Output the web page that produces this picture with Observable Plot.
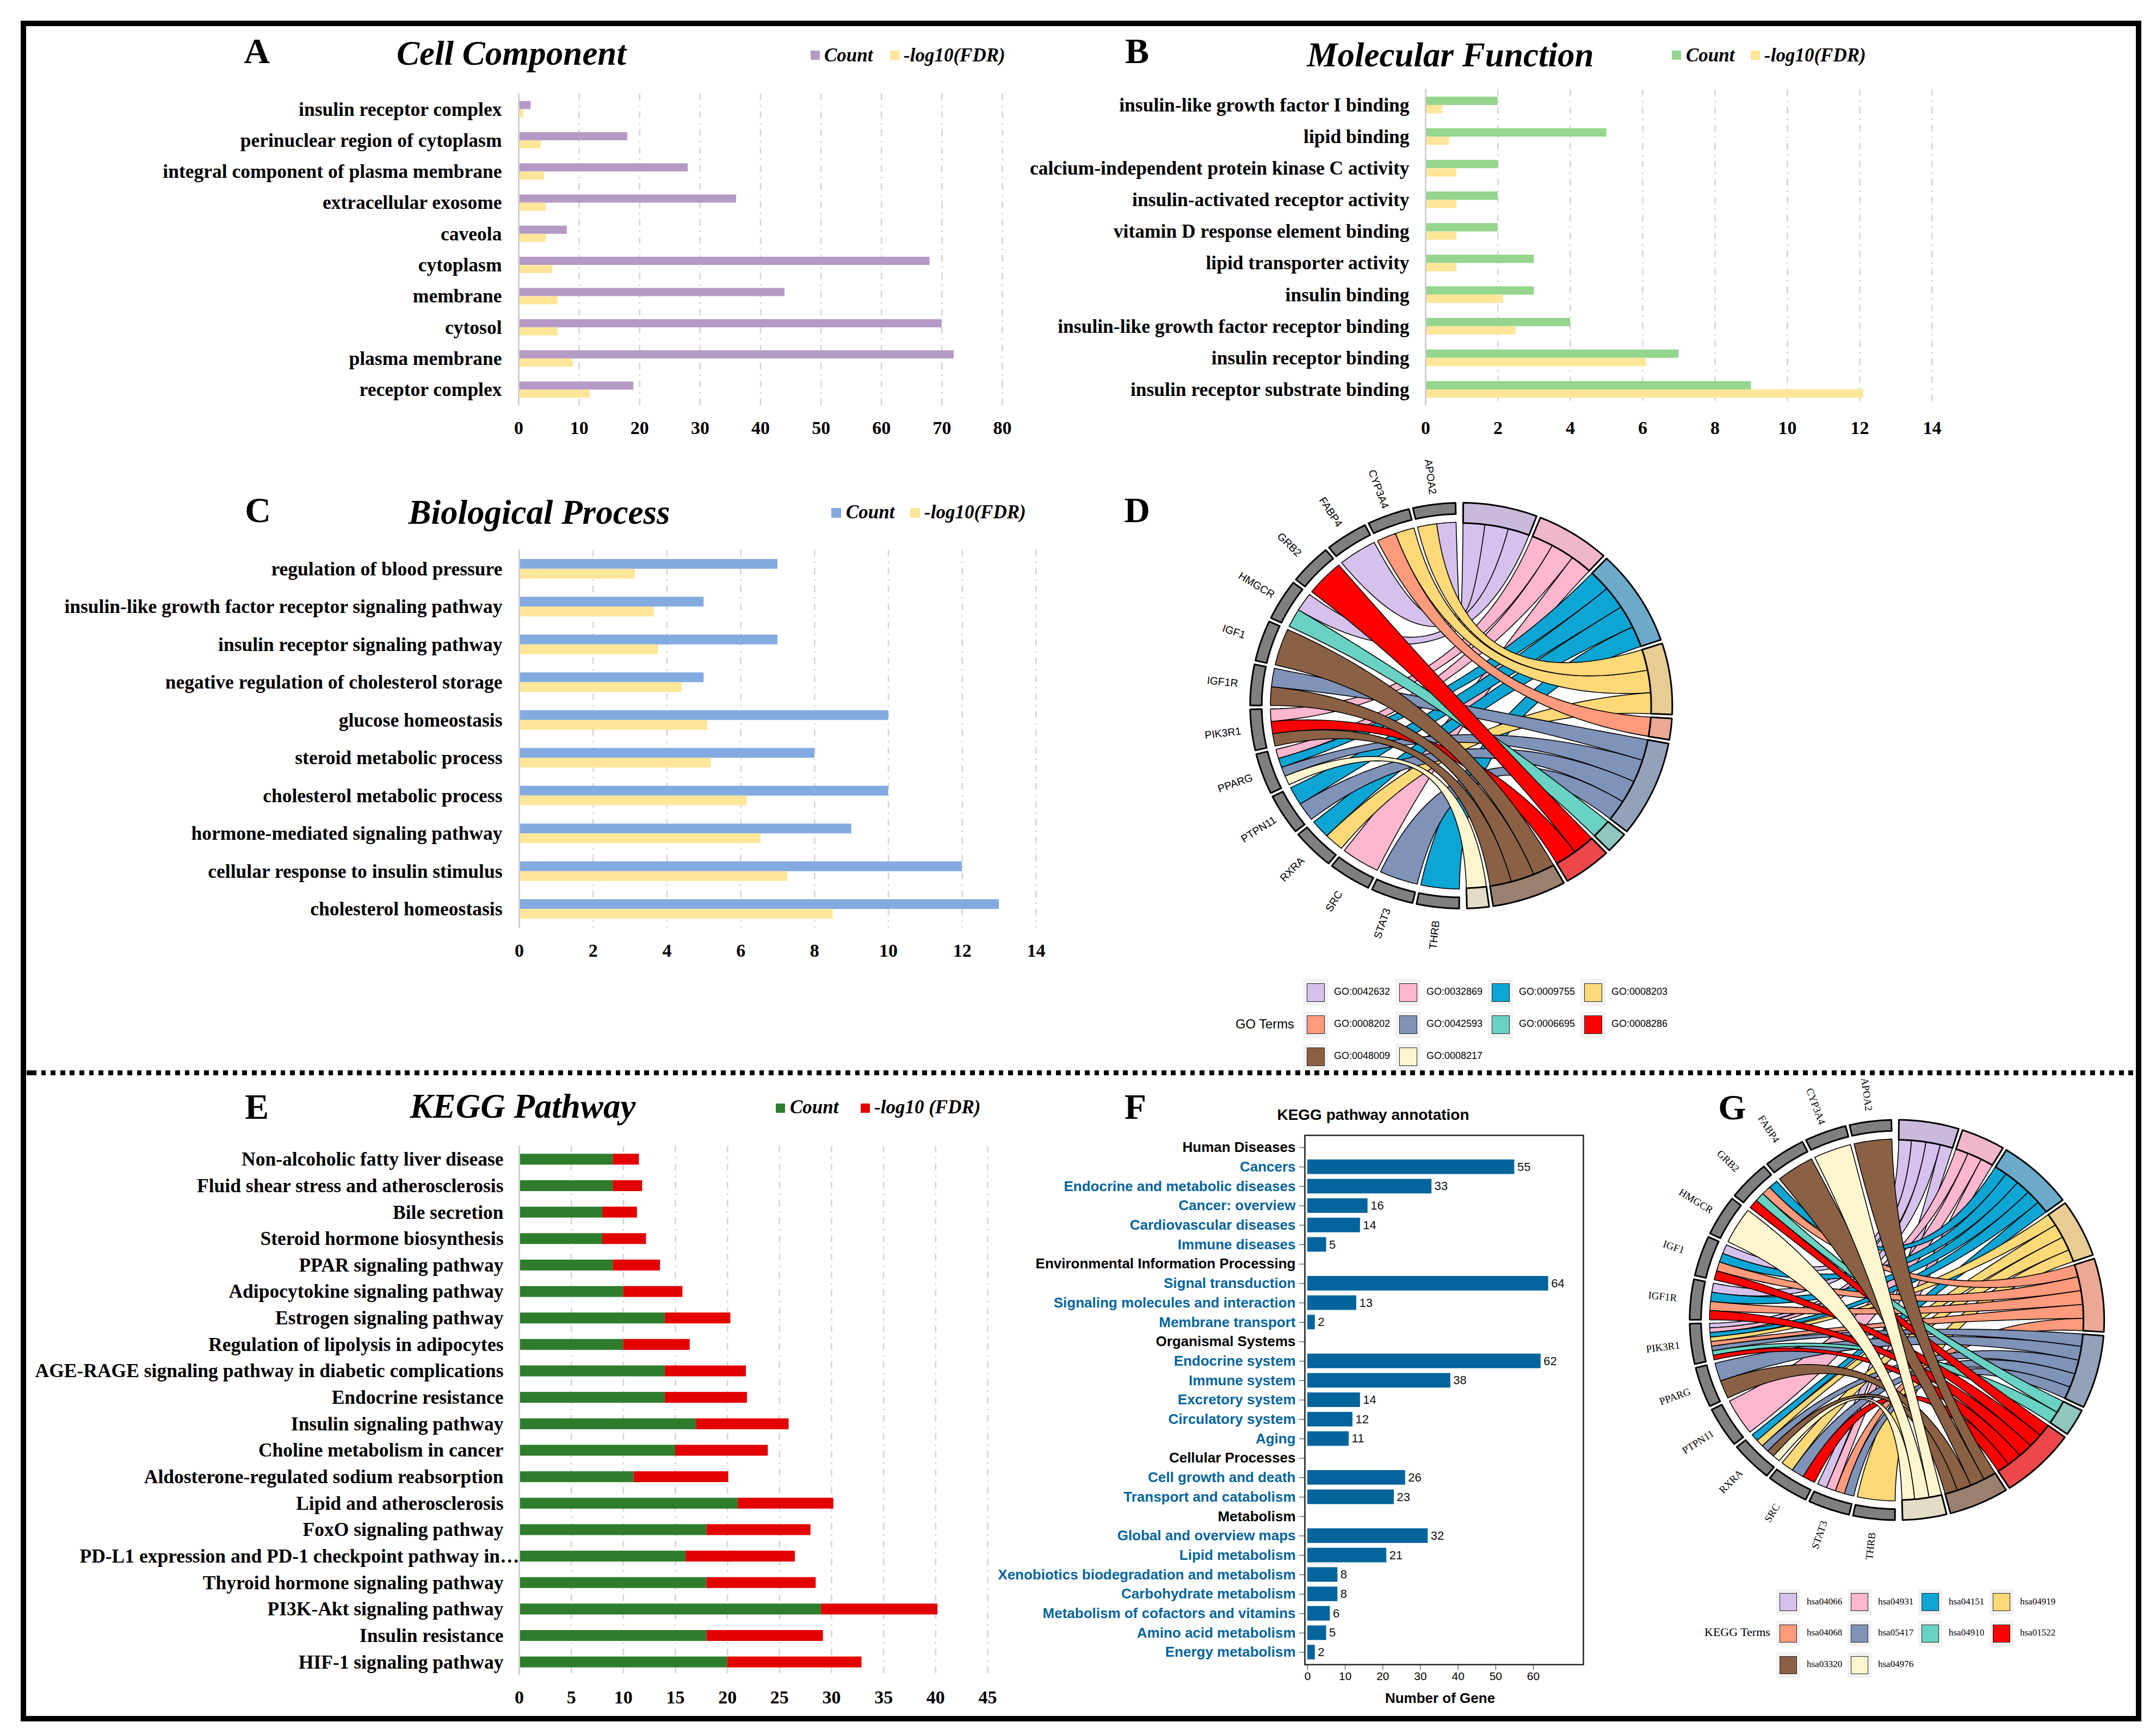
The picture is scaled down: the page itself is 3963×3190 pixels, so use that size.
<!DOCTYPE html>
<html><head><meta charset="utf-8">
<script src="https://cdn.jsdelivr.net/npm/d3@7"></script>
<script src="https://cdn.jsdelivr.net/npm/@observablehq/plot@0.6"></script>
<style>
html,body{margin:0;padding:0;background:#fff}
#fig{position:relative;width:3963px;height:3190px;background:#fff;overflow:hidden}
#fig>*{position:absolute}
#fig svg{overflow:visible}
.serif{font-family:"Liberation Serif",serif;color:#000;white-space:nowrap}
.sans{font-family:"Liberation Sans",sans-serif;color:#000;white-space:nowrap}
</style></head><body><div id="fig"></div>
<script>
// ---------- Panel A
const ccCats=["insulin receptor complex","perinuclear region of cytoplasm","integral component of plasma membrane","extracellular exosome","caveola","cytoplasm","membrane","cytosol","plasma membrane","receptor complex"];
const ccCount=[2,18,28,36,8,68,44,70,72,19];
const ccFdr=[0.8,3.7,4.25,4.5,4.5,5.6,6.5,6.5,9,11.8];
// ---------- Panel B
const mfCats=["insulin-like growth factor I binding","lipid binding","calcium-independent protein kinase C activity","insulin-activated receptor activity","vitamin D response element binding","lipid transporter activity","insulin binding","insulin-like growth factor receptor binding","insulin receptor binding","insulin receptor substrate binding"];
const mfCount=[2,5,2,2,2,3,3,4,7,9];
const mfFdr=[0.47,0.66,0.85,0.85,0.85,0.85,2.15,2.49,6.1,12.1];
// ---------- Panel C
const bpCats=["regulation of blood pressure","insulin-like growth factor receptor signaling pathway","insulin receptor signaling pathway","negative regulation of cholesterol storage","glucose homeostasis","steroid metabolic process","cholesterol metabolic process","hormone-mediated signaling pathway","cellular response to insulin stimulus","cholesterol homeostasis"];
const bpCount=[7,5,7,5,10,8,10,9,12,13];
const bpFdr=[3.14,3.65,3.76,4.4,5.1,5.19,6.17,6.54,7.27,8.5];
// ---------- Panel E
const keggCats=["Non-alcoholic fatty liver disease","Fluid shear stress and atherosclerosis","Bile secretion","Steroid hormone biosynthesis","PPAR signaling pathway","Adipocytokine signaling pathway","Estrogen signaling pathway","Regulation of lipolysis in adipocytes","AGE-RAGE signaling pathway in diabetic complications","Endocrine resistance","Insulin signaling pathway","Choline metabolism in cancer","Aldosterone-regulated sodium reabsorption","Lipid and atherosclerosis","FoxO signaling pathway","PD-L1 expression and PD-1 checkpoint pathway in…","Thyroid hormone signaling pathway","PI3K-Akt signaling pathway","Insulin resistance","HIF-1 signaling pathway"];
const keggTruncated=["PD-L1 expression and PD-1 checkpoint pathway in…"];
const keggCount=[9,9,8,8,9,10,14,10,14,14,17,15,11,21,18,16,18,29,18,20];
const keggFdr=[2.52,2.83,3.33,4.2,4.54,5.7,6.3,6.4,7.8,7.9,8.9,8.9,9.1,9.2,10,10.5,10.5,11.2,11.2,12.9];
// ---------- Panel F
const annGroups=["Human Diseases","Environmental Information Processing","Organismal Systems","Cellular Processes","Metabolism"];
const annCats=["Human Diseases","Cancers","Endocrine and metabolic diseases","Cancer: overview","Cardiovascular diseases","Immune diseases","Environmental Information Processing","Signal transduction","Signaling molecules and interaction","Membrane transport","Organismal Systems","Endocrine system","Immune system","Excretory system","Circulatory system","Aging","Cellular Processes","Cell growth and death","Transport and catabolism","Metabolism","Global and overview maps","Lipid metabolism","Xenobiotics biodegradation and metabolism","Carbohydrate metabolism","Metabolism of cofactors and vitamins","Amino acid metabolism","Energy metabolism"];
const annValues=[null,55,33,16,14,5,null,64,13,2,null,62,38,14,12,11,null,26,23,null,32,21,8,8,6,5,2];
// ---------- Chord panels
const genes=["APOA2","CYP3A4","FABP4","GRB2","HMGCR","IGF1","IGF1R","PIK3R1","PPARG","PTPN11","RXRA","SRC","STAT3","THRB"];
const termFill=["#D6C1ED","#FFB6CF","#0CA5D4","#FFD978","#FF9A7C","#7F92B8","#69D2C2","#FF0000","#8A6145","#FFF6D0"];
const ringFill=["#CAB9DB","#F0B7C8","#6BAACB","#E8CC92","#EBA995","#92A2BA","#8FC6BD","#ED474A","#9A806E","#E3DCC6"];
const goTerms=["GO:0042632","GO:0032869","GO:0009755","GO:0008203","GO:0008202","GO:0042593","GO:0006695","GO:0008286","GO:0048009","GO:0008217"];
const goLinks=[["APOA2","FABP4","HMGCR"],["PIK3R1","PPARG","SRC"],["PPARG","PTPN11","RXRA","THRB"],["APOA2","CYP3A4","RXRA"],["CYP3A4"],["IGF1R","PPARG","PTPN11","STAT3"],["HMGCR"],["GRB2","PIK3R1"],["IGF1","IGF1R","PIK3R1"],["PPARG"]];
const keggTerms=["hsa04066","hsa04931","hsa04151","hsa04919","hsa04068","hsa05417","hsa04910","hsa01522","hsa03320","hsa04976"];
const keggLinks=[["IGF1","IGF1R","PIK3R1","STAT3"],["PIK3R1","PTPN11","STAT3"],["GRB2","IGF1","IGF1R","PIK3R1","RXRA"],["PIK3R1","RXRA","SRC","THRB"],["GRB2","IGF1","IGF1R","PIK3R1","STAT3"],["PIK3R1","PPARG","RXRA","SRC","STAT3"],["GRB2","PIK3R1"],["GRB2","IGF1","IGF1R","PIK3R1","SRC"],["APOA2","FABP4","PPARG","RXRA"],["CYP3A4","HMGCR","RXRA"]];

const fig=document.getElementById("fig");
const SERIF="Liberation Serif", SANS="Liberation Sans";
const GRID={stroke:"#d6d6d6",strokeWidth:2.7,strokeDasharray:"12 9 3 9"};
function place(el,left,top){el.style.left=left+"px";el.style.top=top+"px";fig.appendChild(el);return el;}
function html(cls,text,css){const d=document.createElement("div");d.className=cls;d.textContent=text;Object.assign(d.style,css);fig.appendChild(d);return d;}
function label(cls,text,x,base,size,opts={}){
  const {anchor="start",weight="normal",italic=false,color="#000"}=opts;
  const tx=anchor==="middle"?"translateX(-50%)":"";
  return html(cls,text,{left:x+"px",top:(base-size)+"px",fontSize:size+"px",lineHeight:(size*1.22)+"px",fontWeight:weight,fontStyle:italic?"italic":"normal",color,transform:tx});
}
function box(x,y,w,h,bg,css={}){const d=document.createElement("div");Object.assign(d.style,{left:x+"px",top:y+"px",width:w+"px",height:h+"px",background:bg},css);fig.appendChild(d);return d;}

function grouped({cats,count,fdr,color,xMax,step,svgLeft,x0,x1,yTop,yBot,pad,bar,size=35.5}){
  const series=["Count","-log10(FDR)"];
  const rows=cats.flatMap((c,i)=>[{cat:c,series:series[0],value:count[i]},{cat:c,series:series[1],value:fdr[i]}]);
  const pitch=(yBot-yTop)/cats.length;
  const ticks=d3.range(0,xMax+1,step);
  const frame={width:x1-svgLeft+60,height:yBot-yTop+80,marginLeft:x0-svgLeft,marginRight:60,marginTop:0,marginBottom:80,
    style:{fontFamily:SERIF,background:"transparent",color:"#000"}};
  // one continuous layer of grid lines under the faceted bars
  place(Plot.plot({...frame,x:{domain:[0,xMax],axis:null},marks:[Plot.ruleX(ticks.slice(1),GRID)]}),svgLeft,yTop);
  const p=Plot.plot({...frame,
    x:{domain:[0,xMax],axis:null},
    y:{domain:series,paddingInner:0,paddingOuter:(pitch/bar-2)/2,axis:null,round:false},
    fy:{domain:cats,padding:0,axis:null,round:false},
    color:{domain:series,range:[color,"#FFE699"]},
    marks:[
      Plot.barX(rows,{x:"value",y:"series",fy:"cat",fill:"series"}),
      Plot.ruleX([0],{stroke:"#cfcfcf",strokeWidth:3}),
      Plot.axisFy({anchor:"left",tickSize:0,tickPadding:pad,fontSize:size,fontWeight:"bold",label:null}),
      Plot.axisX({ticks,tickSize:0,tickPadding:28,fontSize:34,fontWeight:"bold",label:null,tickFormat:d3.format("d")})
    ]});
  place(p,svgLeft,yTop);
}
function stacked({cats,count,fdr,xMax,step,x0,x1,yTop,yBot,bar,pad,size}){
  const series=["Count","-log10 (FDR)"];
  const rows=cats.flatMap((c,i)=>[{cat:c,series:series[0],value:count[i]},{cat:c,series:series[1],value:fdr[i]}]);
  const pitch=(yBot-yTop)/cats.length;
  const ticks=d3.range(0,xMax+1,step);
  const gapShare=1-bar/pitch;
  const p=Plot.plot({
    width:x1+60,height:yBot-yTop+80,marginLeft:x0,marginRight:60,marginTop:0,marginBottom:80,
    style:{fontFamily:SERIF,background:"transparent",color:"#000"},
    x:{domain:[0,xMax],axis:null},
    y:{domain:cats,paddingInner:gapShare,paddingOuter:gapShare/2,axis:null,round:false},
    color:{domain:series,range:["#2E7D2D","#E30000"]},
    marks:[
      Plot.ruleX(ticks.slice(1),GRID),
      Plot.barX(rows,Plot.stackX({x:"value",y:"cat",fill:"series",order:series})),
      Plot.ruleX([0],{stroke:"#cfcfcf",strokeWidth:3}),
      Plot.axisY(cats.filter(c=>!keggTruncated.includes(c)),{tickSize:0,tickPadding:pad,fontSize:size,fontWeight:"bold",label:null}),
      // the clipped label runs right up to the axis in the source
      Plot.text(keggTruncated,{x:()=>0,y:d=>d,textAnchor:"end",fontSize:size,fontWeight:"bold"}),
      Plot.axisX({ticks,tickSize:0,tickPadding:27,fontSize:34,fontWeight:"bold",label:null,tickFormat:d3.format("d")})
    ]});
  place(p,0,yTop);
}
function polar(r,deg){const a=deg*Math.PI/180;return [r*Math.sin(a),r*Math.cos(a)];}
function chord({links,cx,cy,rx,ry,font,geneSize}){
  const R=1.3, rib=0.904;
  const total=d3.sum(links,l=>l.length), unit=179/total, gStep=179/genes.length, gap=1.1;
  const arc=(r,a,b,n=16)=>d3.range(n+1).map(i=>polar(r,a+(b-a)*i/n));
  const quad=(p,q,n=40)=>d3.range(1,n).map(i=>{const t=i/n,u=1-t;return [u*u*p[0]+t*t*q[0],u*u*p[1]+t*t*q[1]];});
  const ribbons=[],rings=[];
  const geneSpan=g=>{const k=genes.indexOf(g);return [359-(k+1)*gStep+gap/2,359-k*gStep-gap/2];};
  let acc=0;
  links.forEach((list,ti)=>{
    const a0=acc*unit,a1=(acc+list.length)*unit;
    rings.push({id:"t"+ti,fill:ringFill[ti],pts:[...arc(1,a0+gap/2,a1-gap/2),...arc(0.9,a1-gap/2,a0+gap/2)]});
    list.forEach((g,j)=>{
      const sharers=links.map((l,i)=>l.includes(g)?i:-1).filter(i=>i>=0);
      const pos=sharers.indexOf(ti),[s0,s1]=geneSpan(g),w=(s1-s0)/sharers.length;
      const g1=s1-pos*w,g0=g1-w;
      const ta=a0+j*unit+(j===0?gap/2:0),tb=a0+(j+1)*unit-(j===list.length-1?gap/2:0);
      const A=arc(rib,ta,tb),B=arc(rib,g0,g1,8);
      ribbons.push({id:`r${ti}-${j}`,k:genes.indexOf(g),fill:termFill[ti],pts:[...A,...quad(A[A.length-1],B[0]),...B,...quad(B[B.length-1],A[0])]});
    });
    acc+=list.length;
  });
  genes.forEach(g=>{const [a,b]=geneSpan(g);rings.push({id:"g"+g,fill:"#7F7F7F",pts:[...arc(1,a,b),...arc(0.945,b,a)]});});
  ribbons.sort((p,q)=>q.k-p.k);
  const flat=list=>list.flatMap(s=>[...s.pts,s.pts[0]].map(([x,y])=>({x,y,id:s.id,fill:s.fill})));
  const labelData=genes.map(g=>{const [a,b]=geneSpan(g),m=(a+b)/2,[x,y]=polar(1.137,m);return {g,x,y,rot:90-(360-m)};});
  const p=Plot.plot({
    width:2*R*rx,height:2*R*ry,margin:0,
    style:{fontFamily:font,background:"transparent",color:"#000"},
    x:{domain:[-R,R],axis:null},y:{domain:[-R,R],axis:null},
    marks:[
      Plot.line(flat(ribbons),{x:"x",y:"y",z:"id",fill:"fill",stroke:"#000",strokeWidth:1.6,curve:"linear"}),
      Plot.line(flat(rings),{x:"x",y:"y",z:"id",fill:"fill",stroke:"#000",strokeWidth:3,curve:"linear"}),
      Plot.text(labelData,{x:"x",y:"y",text:"g",rotate:"rot",fontSize:geneSize})
    ]});
  place(p,cx-R*rx,cy-R*ry);
}
function termLegend({cls,terms,title,titleX,titleBase,titleSize,cols,rows,labelDx,labelSize,keyW,keyH,swW,swH}){
  terms.forEach((t,i)=>{
    const cx=cols[i%4],cy=rows[Math.floor(i/4)];
    box(cx-keyW/2,cy-keyH/2,keyW,keyH,"#F2F2F2");
    box(cx-swW/2,cy-swH/2,swW,swH,termFill[i],{border:"1.5px solid #222",boxSizing:"border-box"});
    label(cls,t,cx+labelDx,cy+labelSize*0.36,labelSize);
  });
  label(cls,title,titleX,titleBase,titleSize);
}
function barLegend(items,base,size,sq,top){
  items.forEach(([sx,color,tx,text])=>{
    box(sx,top,sq,sq,color);
    label("serif",text,tx,base,size,{weight:"bold",italic:true});
  });
}

// ---------- Frame and divider
box(38,38,3878,3107,"transparent",{border:"10px solid #000",boxSizing:"content-box"});
box(46,1968,3881,8.5,"repeating-linear-gradient(90deg,#000 0 8.8px,transparent 8.8px 17.6px)",{backgroundPosition:"12px 0"});

// ---------- Bar panels
grouped({cats:ccCats,count:ccCount,fdr:ccFdr,color:"#B69AC6",xMax:80,step:10,svgLeft:0,x0:953,x1:1842,yTop:172,yBot:745,pad:31,bar:15});
grouped({cats:mfCats,count:mfCount,fdr:mfFdr,color:"#95D58D",xMax:14,step:2,svgLeft:1850,x0:2620,x1:3551,yTop:164,yBot:745,pad:30,bar:15.3});
grouped({cats:bpCats,count:bpCount,fdr:bpFdr,color:"#84ABE0",xMax:14,step:2,svgLeft:0,x0:954,x1:1904,yTop:1011,yBot:1706,pad:31,bar:18});
stacked({cats:keggCats,count:keggCount,fdr:keggFdr,xMax:45,step:5,x0:954,x1:1815,yTop:2107,yBot:3080,bar:20,pad:29,size:35.5});

// ---------- Panel F
{
  const rows=annCats.map((c,i)=>({cat:c,value:annValues[i]})).filter(d=>d.value!==null);
  const subs=annCats.filter(c=>!annGroups.includes(c));
  const L=1800,x0=2398,x1=2910,yT=2086.5,yB=3059.6;
  const pxPerUnit=(2818-2403)/60;
  const p=Plot.plot({
    width:x1-L+20,height:yB-yT+100,marginLeft:x0-L,marginRight:20,marginTop:0,marginBottom:100,
    style:{fontFamily:SANS,background:"transparent",color:"#000"},
    x:{domain:[(x0-2403)/pxPerUnit,(x1-2403)/pxPerUnit],axis:null},
    y:{domain:annCats,paddingInner:0.25,paddingOuter:0.255,axis:null,round:false},
    marks:[
      Plot.barX(rows,{x:"value",y:"cat",fill:"#04649C"}),
      Plot.text(rows,{x:"value",y:"cat",text:"value",textAnchor:"start",dx:5,fontSize:22,fill:"#111"}),
      Plot.frame({stroke:"#222",strokeWidth:2.5}),
      Plot.axisY(annCats,{tickSize:10,tickPadding:7,fontSize:26,text:null,label:null,stroke:"#222"}),
      Plot.axisY(annGroups,{tickSize:0,tickPadding:17,fontSize:26,fontWeight:"bold",fill:"#000",label:null}),
      Plot.axisY(subs,{tickSize:0,tickPadding:17,fontSize:26,fontWeight:"bold",fill:"#04649C",label:null}),
      Plot.axisX({ticks:d3.range(0,61,10),tickSize:10,tickPadding:3,fontSize:21,label:null,stroke:"#222"})
    ]});
  place(p,L,yT);
  label("sans","KEGG pathway annotation",2524,2061,28,{anchor:"middle",weight:"bold"});
  label("sans","Number of Gene",2647,3133,26,{anchor:"middle",weight:"bold"});
}

// ---------- Chords
chord({links:goLinks,cx:2685,cy:1297,rx:388,ry:373,font:SANS,geneSize:19.5});
chord({links:keggLinks,cx:3486,cy:2426.5,rx:381,ry:368,font:SERIF,geneSize:19});
termLegend({cls:"sans",terms:goTerms,title:"GO Terms",titleX:2271,titleBase:1892,titleSize:23.8,cols:[2418,2588,2758,2928],rows:[1824.6,1884,1943],labelDx:34,labelSize:18,keyW:46,keyH:49,swW:33,swH:34});
termLegend({cls:"serif",terms:keggTerms,title:"KEGG Terms",titleX:3133,titleBase:3010,titleSize:22,cols:[3287,3418,3548,3679],rows:[2945.5,3003,3061],labelDx:34,labelSize:17,keyW:44,keyH:47,swW:32,swH:33});

// ---------- Panel letters and titles
[["A",472,120],["B",2090,120],["C",474,964],["D",2090,964],["E",472,2061],["F",2087,2061],["G",3184,2062]].forEach(([t,x,b])=>label("serif",t,x,b,66,{anchor:"middle",weight:"bold"}));
[["Cell Component",940,123],["Molecular Function",2666,126],["Biological Process",991,967],["KEGG Pathway",961,2059]].forEach(([t,x,b])=>label("serif",t,x,b,63,{anchor:"middle",weight:"bold",italic:true}));
barLegend([[1490,"#B69AC6",1515,"Count"],[1636,"#FFE699",1661,"-log10(FDR)"]],116,35,17,93);
barLegend([[3073,"#95D58D",3099,"Count"],[3218,"#FFE699",3243,"-log10(FDR)"]],116,35,17,93);
barLegend([[1528,"#84ABE0",1555,"Count"],[1673,"#FFE699",1699,"-log10(FDR)"]],956,35,18,934);
barLegend([[1426,"#2E7D2D",1452,"Count"],[1582,"#E30000",1607,"-log10 (FDR)"]],2050,35,17,2029);
</script></body></html>
